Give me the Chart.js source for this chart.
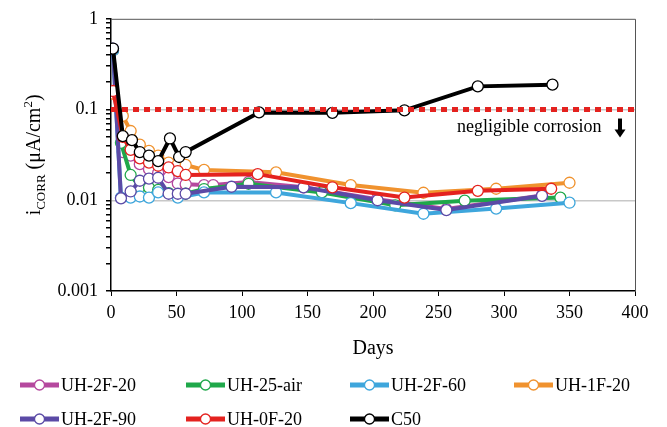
<!DOCTYPE html>
<html>
<head>
<meta charset="utf-8">
<script src="https://cdn.jsdelivr.net/npm/chart.js@4.4.1/dist/chart.umd.min.js"></script>
<style>
  html, body { margin: 0; padding: 0; background: #fff; }
  #wrap { width: 667px; height: 427px; }
</style>
</head>
<body>
<div id="wrap"><canvas id="icorrChart" width="667" height="427"></canvas></div>
<script>
// ---- data (days, i_corr in uA/cm2) ----
const seriesNames = ['UH-2F-20', 'UH-25-air', 'UH-2F-60', 'UH-1F-20', 'UH-2F-90', 'UH-0F-20', 'C50'];

const days2F20 = [1.5, 9, 15, 22, 29, 36, 44, 51, 57, 71, 78, 105, 147, 203, 256, 329];
const icorr2F20 = [0.45, 0.034, 0.031, 0.025, 0.022, 0.020, 0.018, 0.0153, 0.015, 0.0147, 0.0147, 0.0159, 0.0139, 0.0103, 0.0080, 0.0113];

const days25air = [1.5, 7.6, 15, 22, 29, 36, 44, 51, 57, 71, 105, 161, 217, 270, 343];
const icorr25air = [0.45, 0.043, 0.019, 0.014, 0.0138, 0.013, 0.012, 0.0115, 0.0118, 0.0133, 0.0152, 0.0122, 0.0088, 0.0099, 0.0107];

const days2F60 = [1.5, 7.6, 15, 22, 29, 36, 51, 71, 126, 183, 238.5, 294, 350];
const icorr2F60 = [0.45, 0.0107, 0.0107, 0.011, 0.0107, 0.0122, 0.0107, 0.0122, 0.0122, 0.0093, 0.0071, 0.0081, 0.0094];

const days1F20 = [1.5, 9, 15, 22, 29, 36, 44, 51, 57, 71, 126, 183, 238.5, 294, 350];
const icorr1F20 = [0.15, 0.085, 0.058, 0.041, 0.035, 0.031, 0.026, 0.025, 0.0245, 0.0216, 0.0203, 0.0147, 0.0121, 0.0134, 0.0156];

const days2F90 = [1.5, 7.6, 15, 22, 29, 36, 44, 51, 57, 92, 147, 203.5, 256, 329];
const icorr2F90 = [0.47, 0.0105, 0.0125, 0.0164, 0.0173, 0.0177, 0.0118, 0.0118, 0.0118, 0.0141, 0.0139, 0.0100, 0.0078, 0.0112];

const days0F20 = [1.5, 9, 15, 22, 29, 36, 44, 51, 57, 112, 169, 224, 280, 336];
const icorr0F20 = [0.16, 0.05, 0.036, 0.029, 0.026, 0.024, 0.023, 0.021, 0.019, 0.0194, 0.0139, 0.0107, 0.0127, 0.0134];

const daysC50 = [1.5, 9, 16, 22, 29, 36, 45, 52, 57, 113, 169, 224, 280, 337];
const icorrC50 = [0.47, 0.051, 0.046, 0.034, 0.031, 0.027, 0.048, 0.030, 0.034, 0.093, 0.092, 0.098, 0.18, 0.188];

const thresholdDays = [0, 400];
const thresholdValue = [0.1, 0.1];

const xTicks = [0, 50, 100, 150, 200, 250, 300, 350, 400];
const yMajorTicks = [0.001, 0.01, 0.1, 1];

const colors = ['#b5489e', '#1fa84a', '#3ea6dc', '#f0922e', '#5b4aa6', '#e4221f', '#000000'];
const SERIF = '"Liberation Serif", "Times New Roman", serif';

function pts(xs, ys) {
    return xs.map(function(x, i) { return { x: x, y: ys[i] }; });
}

const allDays = [days2F20, days25air, days2F60, days1F20, days2F90, days0F20, daysC50];
const allVals = [icorr2F20, icorr25air, icorr2F60, icorr1F20, icorr2F90, icorr0F20, icorrC50];

const datasets = seriesNames.map(function(name, i) {
    return {
        label: name,
        data: pts(allDays[i], allVals[i]),
        borderColor: colors[i],
        backgroundColor: '#ffffff',
        borderWidth: 4,
        pointRadius: 5.5,
        pointBorderWidth: 1.3,
        pointBorderColor: colors[i],
        pointBackgroundColor: '#ffffff',
        tension: 0,
        order: seriesNames.length - i
    };
});

datasets.push({
    label: 'limit',
    data: pts(thresholdDays, thresholdValue),
    borderColor: '#e4221f',
    borderWidth: 5,
    borderDash: [6, 5],
    borderCapStyle: 'butt',
    pointRadius: 0,
    order: -1
});

// minor + major ticks for the log axis
function logTicks() {
    const out = [];
    for (let d = 0; d < yMajorTicks.length - 1; d++) {
        for (let m = 1; m < 10; m++) out.push({ value: yMajorTicks[d] * m });
    }
    out.push({ value: yMajorTicks[yMajorTicks.length - 1] });
    return out;
}

const extrasPlugin = {
    id: 'extras',
    afterDraw: function(chart) {
        const ctx = chart.ctx;
        const a = chart.chartArea;
        const y = chart.scales.y;

        // frame top/right
        ctx.save();
        ctx.strokeStyle = '#555';
        ctx.lineWidth = 1;
        ctx.beginPath();
        ctx.moveTo(a.left, a.top + 0.5);
        ctx.lineTo(a.right + 0.5, a.top + 0.5);
        ctx.lineTo(a.right + 0.5, a.bottom);
        ctx.stroke();

        // annotation
        ctx.fillStyle = '#000';
        ctx.font = '18px ' + SERIF;
        ctx.textBaseline = 'middle';
        ctx.textAlign = 'left';
        const ty = y.getPixelForValue(0.1) + 18;
        ctx.fillText('negligible corrosion', 457, ty);

        // down arrow
        const ax = 620;
        ctx.fillRect(ax - 2, ty - 9, 4, 12);
        ctx.beginPath();
        ctx.moveTo(ax - 5.5, ty + 2);
        ctx.lineTo(ax + 5.5, ty + 2);
        ctx.lineTo(ax, ty + 10);
        ctx.closePath();
        ctx.fill();

        // x title
        ctx.textAlign = 'center';
        ctx.font = '20px ' + SERIF;
        ctx.fillText('Days', (a.left + a.right) / 2, 349);

        // y title with sub/superscript
        ctx.translate(33, (a.top + a.bottom) / 2);
        ctx.rotate(-Math.PI / 2);
        const parts = [
            { t: 'i', f: '20px ', dy: 0 },
            { t: 'CORR', f: '13px ', dy: 5 },
            { t: ' (\u03bcA/cm', f: '20px ', dy: 0 },
            { t: '2', f: '13px ', dy: -8 },
            { t: ')', f: '20px ', dy: 0 }
        ];
        let total = 0;
        parts.forEach(function(p) { ctx.font = p.f + SERIF; p.w = ctx.measureText(p.t).width; total += p.w; });
        let cx = -total / 2;
        ctx.textAlign = 'left';
        ctx.textBaseline = 'alphabetic';
        parts.forEach(function(p) {
            ctx.font = p.f + SERIF;
            ctx.fillText(p.t, cx, 7 + p.dy);
            cx += p.w;
        });
        ctx.restore();

        // legend
        const legX = [20, 186, 350, 514];
        const legY = [385, 419];
        ctx.save();
        ctx.font = '18px ' + SERIF;
        ctx.textBaseline = 'middle';
        seriesNames.forEach(function(name, i) {
            const lx = legX[i % 4];
            const ly = legY[Math.floor(i / 4)];
            ctx.strokeStyle = colors[i];
            ctx.lineWidth = 5;
            ctx.beginPath();
            ctx.moveTo(lx, ly);
            ctx.lineTo(lx + 39, ly);
            ctx.stroke();
            ctx.beginPath();
            ctx.arc(lx + 19.5, ly, 5, 0, Math.PI * 2);
            ctx.fillStyle = '#fff';
            ctx.fill();
            ctx.lineWidth = 1.3;
            ctx.stroke();
            ctx.fillStyle = '#000';
            ctx.fillText(name, lx + 41, ly + 1);
        });
        ctx.restore();
    }
};

new Chart(document.getElementById('icorrChart'), {
    type: 'line',
    data: { datasets: datasets },
    options: {
        responsive: false,
        animation: false,
        layout: { padding: { left: 0, right: 32, top: 17, bottom: 66 } },
        plugins: {
            legend: { display: false },
            tooltip: { enabled: false }
        },
        scales: {
            x: {
                type: 'linear',
                min: 0,
                max: 400,
                afterBuildTicks: function(scale) {
                    scale.ticks = xTicks.map(function(v) { return { value: v }; });
                },
                afterFit: function(scale) { scale.height = 70; },
                grid: { drawOnChartArea: false, tickLength: 5, tickColor: '#000' },
                border: { color: '#000', width: 1.5 },
                ticks: { color: '#000', padding: 6, maxRotation: 0, font: { family: SERIF, size: 18 } }
            },
            y: {
                type: 'logarithmic',
                min: 0.001,
                max: 1,
                afterBuildTicks: function(scale) { scale.ticks = logTicks(); },
                afterFit: function(scale) { scale.width = 111; },
                grid: {
                    tickLength: 5,
                    tickColor: '#000',
                    color: function(c) {
                        const v = c.tick ? c.tick.value : 0;
                        return (Math.abs(v - 0.01) < 1e-9 || Math.abs(v - 0.1) < 1e-9) ? '#c8c8c8' : 'rgba(0,0,0,0)';
                    },
                    lineWidth: 1.5
                },
                border: { color: '#000', width: 1.5 },
                ticks: {
                    color: '#000',
                    padding: 8,
                    autoSkip: false,
                    font: { family: SERIF, size: 18 },
                    callback: function(v) {
                        return yMajorTicks.some(function(m) { return Math.abs(m - v) < 1e-12; }) ? String(v) : '';
                    }
                }
            }
        }
    },
    plugins: [extrasPlugin]
});
</script>
</body>
</html>
